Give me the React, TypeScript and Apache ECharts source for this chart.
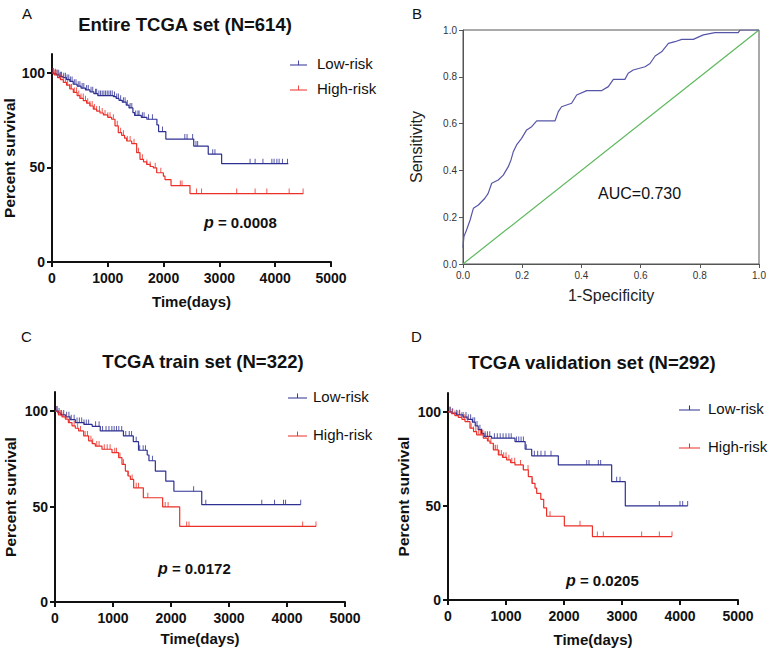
import React, { useEffect, useRef } from "react";
import * as echarts from "echarts";

const FONT = '"Liberation Sans", Arial, Helvetica, sans-serif';
const BLUE = "#2e3192";
const RED = "#ec2f28";
const ROC_BLUE = "#5656a8";
const GREEN = "#5cb85c";
const INK = "#111111";

// ---- Tick values ----
const kmYTicks = [0, 50, 100];
const kmXMax = 5000;
const kmXStep = 1000;
const rocTickStep = 0.2;

// ---- Panel A: Entire TCGA set (N=614) ----  [time(days), percent survival]
const aLowSteps = [
  [0, 100], [30, 99.5], [80, 99], [130, 98], [200, 97.5], [260, 96.5], [320, 95.5], [380, 94],
  [450, 93], [520, 92], [600, 91], [680, 90], [750, 89], [820, 88], [1100, 87.5], [1150, 86.5],
  [1200, 85.5], [1260, 84.5], [1330, 83], [1380, 81.5], [1450, 79], [1480, 77.5], [1600, 76.5],
  [1700, 75.5], [1880, 72.5], [1910, 69], [2040, 65], [2540, 61.3], [2800, 57], [3040, 52], [4235, 52],
];
const aHighSteps = [
  [0, 100], [40, 99], [100, 97.5], [150, 96.5], [203, 95], [260, 93.5], [320, 91.5], [382, 89.7],
  [450, 88], [500, 86.5], [561, 85.3], [620, 84], [680, 82.5], [740, 80.9], [800, 79.8], [860, 78.8],
  [920, 77.8], [1000, 76.5], [1069, 75.5], [1129, 72], [1188, 68.4], [1248, 67], [1300, 65.5],
  [1338, 64], [1428, 62.6], [1517, 57.8], [1577, 54.3], [1640, 53], [1697, 51.6], [1760, 50.5],
  [1816, 49.8], [1876, 47.2], [1996, 45.4], [2025, 43.6], [2133, 40.4], [2473, 36.2], [4504, 36.2],
];
const aLowCensor = [
  20, 60, 90, 120, 150, 170, 210, 240, 270, 300, 330, 360, 400, 430, 470, 500, 540, 570, 620, 650,
  700, 730, 780, 800, 840, 870, 900, 930, 960, 990, 1020, 1050, 1080, 1120, 1160, 1190, 1230, 1280,
  1310, 1350, 1400, 1430, 1500, 1540, 1560, 1620, 1650, 1730, 1800, 1980, 2380, 2420, 2520, 2580,
  2610, 2880, 2920, 3550, 3640, 3780, 3940, 3980, 4030, 4070, 4130, 4220,
];
const aHighCensor = [
  20, 50, 90, 130, 160, 200, 240, 280, 320, 350, 400, 440, 480, 520, 560, 600, 640, 680, 720, 760,
  800, 850, 900, 950, 1000, 1040, 1100, 1170, 1230, 1280, 1350, 1400, 1470, 1550, 1620, 1700, 1760,
  1850, 1950, 2300, 2330, 2590, 2680, 3310, 3640, 3850, 4250, 4500,
];

// ---- Panel C: TCGA train set (N=322) ----
const cLowSteps = [
  [0, 100], [50, 99], [100, 98], [180, 97], [260, 95.5], [350, 94], [500, 93], [640, 92],
  [780, 89.6], [1180, 87], [1350, 84], [1440, 79.5], [1590, 77], [1620, 74], [1730, 68.6],
  [1910, 63.3], [2050, 58], [2530, 51], [4236, 51],
];
const cHighSteps = [
  [0, 100], [60, 98], [120, 97], [178, 95.8], [230, 94], [293, 92.3], [350, 91], [408, 89.6],
  [494, 87], [580, 84.4], [640, 83], [695, 81.7], [810, 80], [983, 78.2], [1098, 75.6], [1155, 72.1],
  [1213, 68.6], [1260, 66], [1299, 64.2], [1356, 59.8], [1523, 54.6], [1856, 49.8], [2150, 39.6],
  [4500, 39.6],
];
const cLowCensor = [
  30, 70, 110, 150, 200, 240, 280, 330, 380, 420, 460, 500, 540, 580, 700, 760, 820, 880, 930, 980,
  1020, 1060, 1100, 1150, 1220, 1280, 1320, 1400, 1460, 1520, 1560, 1680, 2390, 2600, 3565, 3785,
  3940, 3975, 4236,
];
const cHighCensor = [
  40, 90, 140, 190, 250, 330, 390, 440, 520, 560, 620, 650, 720, 760, 850, 900, 950, 1030, 1060,
  1120, 1180, 1260, 1330, 1400, 1440, 1600, 1900, 1950, 2270, 2310, 4270, 4500,
];

// ---- Panel D: TCGA validation set (N=292) ----
const dLowSteps = [
  [0, 100], [60, 99.3], [150, 98.4], [260, 97.2], [330, 96], [420, 94.5], [470, 92.5], [520, 90.5],
  [580, 88.5], [620, 87], [750, 86], [1155, 84.2], [1330, 80.1], [1443, 76.6], [1902, 71.8],
  [2822, 62.9], [3057, 50], [4132, 50],
];
const dHighSteps = [
  [0, 100], [60, 99], [120, 98], [178, 97], [240, 96], [293, 94.8], [379, 91.3], [440, 89.5],
  [494, 87.8], [609, 86], [680, 84.5], [724, 83.3], [782, 79.8], [868, 77.1], [940, 75.8],
  [1011, 74.5], [1080, 73], [1155, 71.8], [1299, 69.1], [1385, 65.6], [1450, 62], [1500, 59.4],
  [1529, 56.7], [1600, 53.5], [1650, 49], [1700, 44.5], [2006, 39.4], [2490, 33.7], [3862, 33.7],
];
const dLowCensor = [
  40, 80, 150, 200, 260, 310, 350, 390, 430, 460, 500, 550, 580, 640, 680, 720, 800, 850, 900, 950,
  1000, 1050, 1090, 1180, 1220, 1260, 1300, 1350, 1489, 1546, 1603, 1672, 1776, 2391, 2431, 2592,
  2632, 2908, 2966, 3644, 4000, 4046, 4132,
];
const dHighCensor = [
  30, 70, 120, 170, 230, 290, 340, 400, 440, 480, 530, 560, 600, 650, 700, 740, 790, 820, 850, 880,
  920, 960, 1000, 1050, 1100, 1150, 1250, 1300, 1380, 1450, 1759, 2276, 2575, 2678, 3339, 3644, 3862,
];

// ---- Panel B: ROC ----
const rocFpr = [
  0, 0.001, 0.003, 0.012, 0.024, 0.035, 0.052, 0.074, 0.085, 0.097, 0.119, 0.136, 0.153, 0.162,
  0.17, 0.181, 0.198, 0.215, 0.232, 0.249, 0.311, 0.322, 0.333, 0.367, 0.384, 0.418, 0.469, 0.491,
  0.508, 0.547, 0.558, 0.575, 0.615, 0.632, 0.649, 0.671, 0.694, 0.716, 0.739, 0.778, 0.812, 0.851,
  0.93, 0.936, 1.0,
];
const rocTpr = [
  0.07, 0.088, 0.117, 0.145, 0.188, 0.238, 0.252, 0.281, 0.302, 0.345, 0.359, 0.38, 0.416, 0.444,
  0.48, 0.509, 0.537, 0.573, 0.587, 0.612, 0.612, 0.651, 0.672, 0.687, 0.722, 0.741, 0.741, 0.758,
  0.789, 0.789, 0.815, 0.829, 0.843, 0.857, 0.889, 0.907, 0.943, 0.95, 0.96, 0.96, 0.979, 0.989,
  0.989, 1.0, 1.0,
];
const rocDiagonal = [
  [0, 0],
  [1, 1],
];

const legendNames = ["Low-risk", "High-risk"];

function survAt(steps: number[][], t: number) {
  let s = steps[0][1];
  for (const [x, y] of steps) {
    if (x <= t) s = y;
    else break;
  }
  return s;
}

const LEGEND_ICON = "path://M0,4H20V5H0ZM9.5,0H10.5V4H9.5Z";

function kmAxes(idx: number, yGap: number, xGap: number) {
  const xAxis = {
    type: "value",
    gridIndex: idx,
    min: 0,
    max: kmXMax,
    interval: kmXStep,
    name: "Time(days)",
    nameLocation: "middle",
    nameGap: xGap,
    nameTextStyle: { fontFamily: FONT, fontWeight: "bold", fontSize: 15, color: INK },
    axisLine: { show: true, onZero: false, lineStyle: { color: INK, width: 2 } },
    axisTick: { show: true, length: 5, lineStyle: { color: INK, width: 2 } },
    axisLabel: {
      fontFamily: FONT,
      fontWeight: "bold",
      fontSize: 14,
      color: INK,
      margin: 9,
      formatter: (v: number) => String(v),
    },
    splitLine: { show: false },
  };
  const yAxis = {
    type: "value",
    gridIndex: idx,
    min: 0,
    max: 110,
    interval: 50,
    name: "Percent survival",
    nameLocation: "middle",
    nameRotate: 90,
    nameGap: yGap,
    nameTextStyle: { fontFamily: FONT, fontWeight: "bold", fontSize: 15.5, color: INK },
    axisLine: { show: true, onZero: false, lineStyle: { color: INK, width: 2 } },
    axisTick: { show: true, length: 5, lineStyle: { color: INK, width: 2 }, customValues: kmYTicks },
    axisLabel: {
      fontFamily: FONT,
      fontWeight: "bold",
      fontSize: 14,
      color: INK,
      margin: 7,
      customValues: kmYTicks,
      formatter: (v: number) => String(v),
    },
    splitLine: { show: false },
  };
  return { xAxis, yAxis };
}

function kmSeries(
  idx: number,
  lowSteps: number[][],
  highSteps: number[][],
  lowCens: number[],
  highCens: number[]
) {
  const line = (name: string, steps: number[][], color: string) => ({
    type: "line",
    name,
    xAxisIndex: idx,
    yAxisIndex: idx,
    data: steps,
    step: "end",
    symbol: "none",
    showSymbol: false,
    silent: true,
    itemStyle: { color },
    lineStyle: { color, width: 1.2 },
    z: 3,
  });
  const cens = (name: string, steps: number[][], times: number[], color: string) => ({
    type: "scatter",
    name,
    xAxisIndex: idx,
    yAxisIndex: idx,
    data: times.map((t) => [t, survAt(steps, t)]),
    symbol: "rect",
    symbolSize: [1, 5],
    symbolOffset: [0, -2.5],
    silent: true,
    itemStyle: { color },
    z: 4,
  });
  return [
    line("Low-risk", lowSteps, BLUE),
    line("High-risk", highSteps, RED),
    cens("Low-risk censored", lowSteps, lowCens, BLUE),
    cens("High-risk censored", highSteps, highCens, RED),
  ];
}

function legendAt(left: number, top: number, itemWidth: number, gap: number, textPad: number) {
  return {
    orient: "vertical",
    left,
    top,
    itemWidth,
    itemHeight: 5,
    itemGap: gap,
    icon: LEGEND_ICON,
    symbolKeepAspect: false,
    selectedMode: false,
    data: legendNames,
    textStyle: {
      fontFamily: FONT,
      fontSize: 15,
      color: INK,
      lineHeight: 16,
      padding: [0, 0, 0, textPad],
    },
  };
}

function txt(x: number, y: number, text: string, size: number, weight: string, align = "left") {
  return {
    type: "text",
    x,
    y,
    silent: true,
    style: {
      text,
      fontFamily: FONT,
      fontSize: size,
      fontWeight: weight,
      fill: INK,
      align,
      verticalAlign: "middle",
    },
  };
}

function pText(x: number, y: number, value: string) {
  return {
    type: "text",
    x,
    y,
    silent: true,
    style: {
      text: "{i|p} = " + value,
      fontFamily: FONT,
      fontSize: 15,
      fontWeight: "bold",
      fill: INK,
      align: "left",
      verticalAlign: "middle",
      rich: {
        i: { fontFamily: FONT, fontSize: 16, fontWeight: "bold", fontStyle: "italic", fill: INK },
      },
    },
  };
}

export default function App() {
  const ref = useRef<HTMLDivElement>(null);

  useEffect(() => {
    if (!ref.current) return;
    const chart = echarts.init(ref.current, undefined, { renderer: "svg" });

    const A = kmAxes(0, 34, 32);
    const C = kmAxes(2, 37, 29);
    const D = kmAxes(3, 37, 32);

    const rocAxisLabel = {
      fontFamily: FONT,
      fontSize: 10,
      color: "#333",
      margin: 6,
      formatter: (v: number) => v.toFixed(1),
    };
    const rocX = {
      type: "value",
      gridIndex: 1,
      min: 0,
      max: 1,
      interval: rocTickStep,
      name: "1-Specificity",
      nameLocation: "middle",
      nameGap: 23,
      nameTextStyle: { fontFamily: FONT, fontSize: 16, color: "#222" },
      axisLine: { show: true, onZero: false, lineStyle: { color: "#555", width: 1 } },
      axisTick: { show: true, length: 4, lineStyle: { color: "#555" } },
      axisLabel: rocAxisLabel,
      splitLine: { show: false },
    };
    const rocY = {
      type: "value",
      gridIndex: 1,
      min: 0,
      max: 1,
      interval: rocTickStep,
      name: "Sensitivity",
      nameLocation: "middle",
      nameRotate: 90,
      nameGap: 39,
      nameTextStyle: { fontFamily: FONT, fontSize: 16, color: "#222" },
      axisLine: { show: true, onZero: false, lineStyle: { color: "#555", width: 1 } },
      axisTick: { show: true, length: 4, lineStyle: { color: "#555" } },
      axisLabel: rocAxisLabel,
      splitLine: { show: false },
    };

    const option = {
      animation: false,
      grid: [
        { left: 52, top: 54, width: 279, height: 208 },
        { left: 463, top: 30, width: 296, height: 234, show: true, borderColor: "#555", borderWidth: 1 },
        { left: 55, top: 392, width: 290, height: 210 },
        { left: 448, top: 393, width: 290, height: 207 },
      ],
      xAxis: [A.xAxis, rocX, C.xAxis, D.xAxis],
      yAxis: [A.yAxis, rocY, C.yAxis, D.yAxis],
      legend: [legendAt(285, 50, 17, 9, 5), legendAt(283, 383, 19, 22, 1), legendAt(674, 395, 21, 22, 3)],
      series: [
        ...kmSeries(0, aLowSteps, aHighSteps, aLowCensor, aHighCensor),
        {
          type: "line",
          name: "Reference",
          xAxisIndex: 1,
          yAxisIndex: 1,
          data: rocDiagonal,
          symbol: "none",
          silent: true,
          lineStyle: { color: GREEN, width: 1.2 },
          itemStyle: { color: GREEN },
        },
        {
          type: "line",
          name: "ROC",
          xAxisIndex: 1,
          yAxisIndex: 1,
          data: rocFpr.map((f, i) => [f, rocTpr[i]]),
          symbol: "none",
          silent: true,
          lineStyle: { color: ROC_BLUE, width: 1.2 },
          itemStyle: { color: ROC_BLUE },
        },
        ...kmSeries(2, cLowSteps, cHighSteps, cLowCensor, cHighCensor),
        ...kmSeries(3, dLowSteps, dHighSteps, dLowCensor, dHighCensor),
      ],
      graphic: [
        txt(22, 13, "A", 15, "normal"),
        txt(412, 13, "B", 15, "normal"),
        txt(21, 336, "C", 15, "normal"),
        txt(411, 336, "D", 15, "normal"),
        txt(185, 24, "Entire TCGA set (N=614)", 18.5, "bold", "center"),
        txt(203, 361, "TCGA train set (N=322)", 18.5, "bold", "center"),
        txt(592, 362, "TCGA validation set (N=292)", 18.5, "bold", "center"),
        pText(204, 222, "0.0008"),
        pText(158, 568, "0.0172"),
        pText(566, 580, "0.0205"),
        txt(598, 193, "AUC=0.730", 16, "normal"),
      ],
    };

    chart.setOption(option as any);
    return () => chart.dispose();
  }, []);

  return (
    <div
      ref={ref}
      style={{ position: "absolute", left: 0, top: 0, width: 773, height: 654, background: "#fff" }}
    />
  );
}
